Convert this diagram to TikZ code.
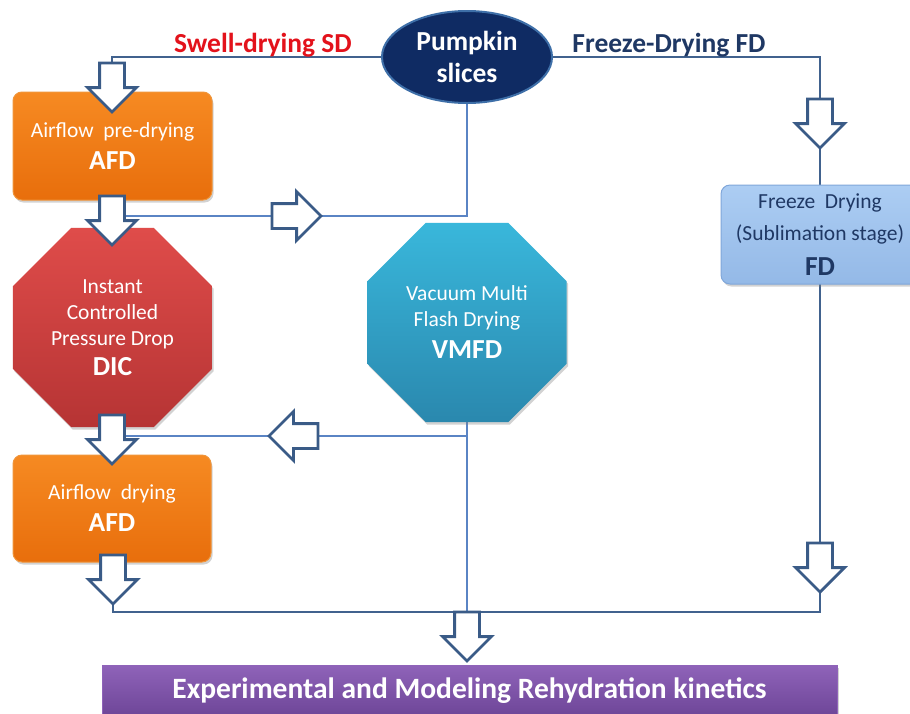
\documentclass[tikz,border=0pt]{standalone}
\usepackage{fontspec}
\setmainfont{Carlito}
\usetikzlibrary{shapes.geometric,shapes.arrows,shadows,backgrounds}

\definecolor{orTop}{HTML}{F68A22}
\definecolor{orBot}{HTML}{E86E0C}
\definecolor{orEdge}{HTML}{F0953A}
\definecolor{redTop}{HTML}{DF4C4A}
\definecolor{redBot}{HTML}{B63434}
\definecolor{tealTop}{HTML}{39B7DB}
\definecolor{tealBot}{HTML}{2A88AE}
\definecolor{fdTop}{HTML}{ACCDF3}
\definecolor{fdBot}{HTML}{94B9E7}
\definecolor{fdEdge}{HTML}{80A7DA}
\definecolor{purTop}{HTML}{8F63B9}
\definecolor{purBot}{HTML}{6D4597}
\definecolor{navy}{HTML}{0F2B63}
\definecolor{navyEdge}{HTML}{3E6FA8}
\definecolor{lineDark}{HTML}{41628E}
\definecolor{lineLight}{HTML}{5A84C4}
\definecolor{arrowEdge}{HTML}{3A5B87}
\definecolor{swellRed}{HTML}{E3121B}
\definecolor{fdText}{HTML}{1F3864}

\newcommand\ftreg{\fontsize{21.5}{26}\selectfont}
\newcommand\ftbold{\fontsize{27.5}{30}\selectfont\bfseries}

\begin{document}
\begin{tikzpicture}[x=1pt,y=-1pt,
  procbox/.style={rectangle, rounded corners=9pt, line width=1pt, inner sep=0pt, outer sep=0pt,
    align=center, text=white, font=\ftreg,
    drop shadow={shadow xshift=1.5pt, shadow yshift=-2.5pt, opacity=0.35}},
  octbox/.style={regular polygon, regular polygon sides=8, minimum size=215.5pt, inner sep=0pt,
    outer sep=0pt, align=center, text=white, font=\ftreg,
    drop shadow={shadow xshift=1.5pt, shadow yshift=-2.5pt, opacity=0.35}},
  blockarrow/.style={single arrow, draw=arrowEdge, fill=white, line width=2.8pt, inner sep=11pt,
    outer sep=0pt, minimum height=49pt, single arrow head extend=12pt, single arrow tip angle=90,
    anchor=tail},
  flowline/.style={line width=2.8pt, draw=lineDark},
  thinline/.style={line width=1.7pt, draw=lineLight},
  routelabel/.style={anchor=base, font=\ftbold, inner sep=0pt}
]
\useasboundingbox (0,0) rectangle (910,713);

% start node
\node[ellipse, fill=navy, draw=navyEdge, line width=2pt, minimum width=170pt, minimum height=92pt,
  inner sep=0pt, outer sep=0pt, align=center, text=white, font={\fontsize{27.5}{32}\selectfont\bfseries}]
  (pump) at (467,57) {Pumpkin\\slices};

% route labels
\node[routelabel, text=swellRed] (sdlab) at (263,52) {Swell-drying SD};
\node[routelabel, text=fdText] (fdlab) at (669,52) {Freeze-Drying FD};

% process boxes
\node[procbox, top color=orTop, bottom color=orBot, draw=orEdge, minimum width=199pt, minimum height=108pt]
  (afd1) at (112.5,146) {Airflow~~pre-drying\\[6pt]\ftbold AFD};
\node[octbox, top color=redTop, bottom color=redBot]
  (dic) at (112.5,327.5) {Instant\\Controlled\\Pressure~Drop\\[4pt]\ftbold DIC};
\node[procbox, top color=orTop, bottom color=orBot, draw=orEdge, minimum width=198pt, minimum height=107pt]
  (afd2) at (112,508.5) {Airflow~~drying\\[6pt]\ftbold AFD};
\node[octbox, top color=tealTop, bottom color=tealBot]
  (vmfd) at (467,322.5) {Vacuum~Multi\\Flash~Drying\\[6pt]\ftbold VMFD};
\node[procbox, top color=fdTop, bottom color=fdBot, draw=fdEdge, text=fdText,
  minimum width=198pt, minimum height=99pt]
  (fd) at (820,234.5) {Freeze~~Drying\\[6pt](Sublimation stage)\\[9pt]\ftbold FD};
\node[procbox, rounded corners=0pt, top color=purTop, bottom color=purBot, draw=purTop,
  minimum width=735pt, minimum height=52pt, font={\fontsize{29.5}{32}\selectfont\bfseries}]
  (exp) at (469.5,691) {Experimental and Modeling Rehydration kinetics};

% block arrows (placed by their tail)
\node[blockarrow, shape border rotate=270] (a1) at (112,63) {};
\node[blockarrow, shape border rotate=270] (a2) at (112,196) {};
\node[blockarrow, shape border rotate=270] (a3) at (112,415) {};
\node[blockarrow, shape border rotate=270] (a4) at (113,555) {};
\node[blockarrow, shape border rotate=0] (ra) at (272,216) {};
\node[blockarrow, shape border rotate=180] (la) at (318,436) {};
\node[blockarrow, shape border rotate=270] (fa1) at (820,99) {};
\node[blockarrow, shape border rotate=270] (fa2) at (820,543) {};
\node[blockarrow, shape border rotate=270] (ma) at (467,612) {};

% connectors
\begin{scope}[on background layer]
\fill[white] (0,0) rectangle (910,713);
\draw[flowline] (pump.west) -| (a1.tail);
\draw[flowline] (pump.east) -| (fa1.tail);
\draw[flowline] (fa1.tip) -- (fd.north);
\draw[flowline] (fd.south) -- (fa2.tail);
\draw[flowline] (a4.tip) |- (ma.tail) -| (fa2.tip);
\draw[thinline] (pump.south) |- (a2.center |- ra.center);
\draw[thinline] (vmfd.south) -- (ma.tail);
\draw[thinline] (la.center -| vmfd.south) -- (a3.center |- la.center);
\end{scope}
\end{tikzpicture}
\end{document}
